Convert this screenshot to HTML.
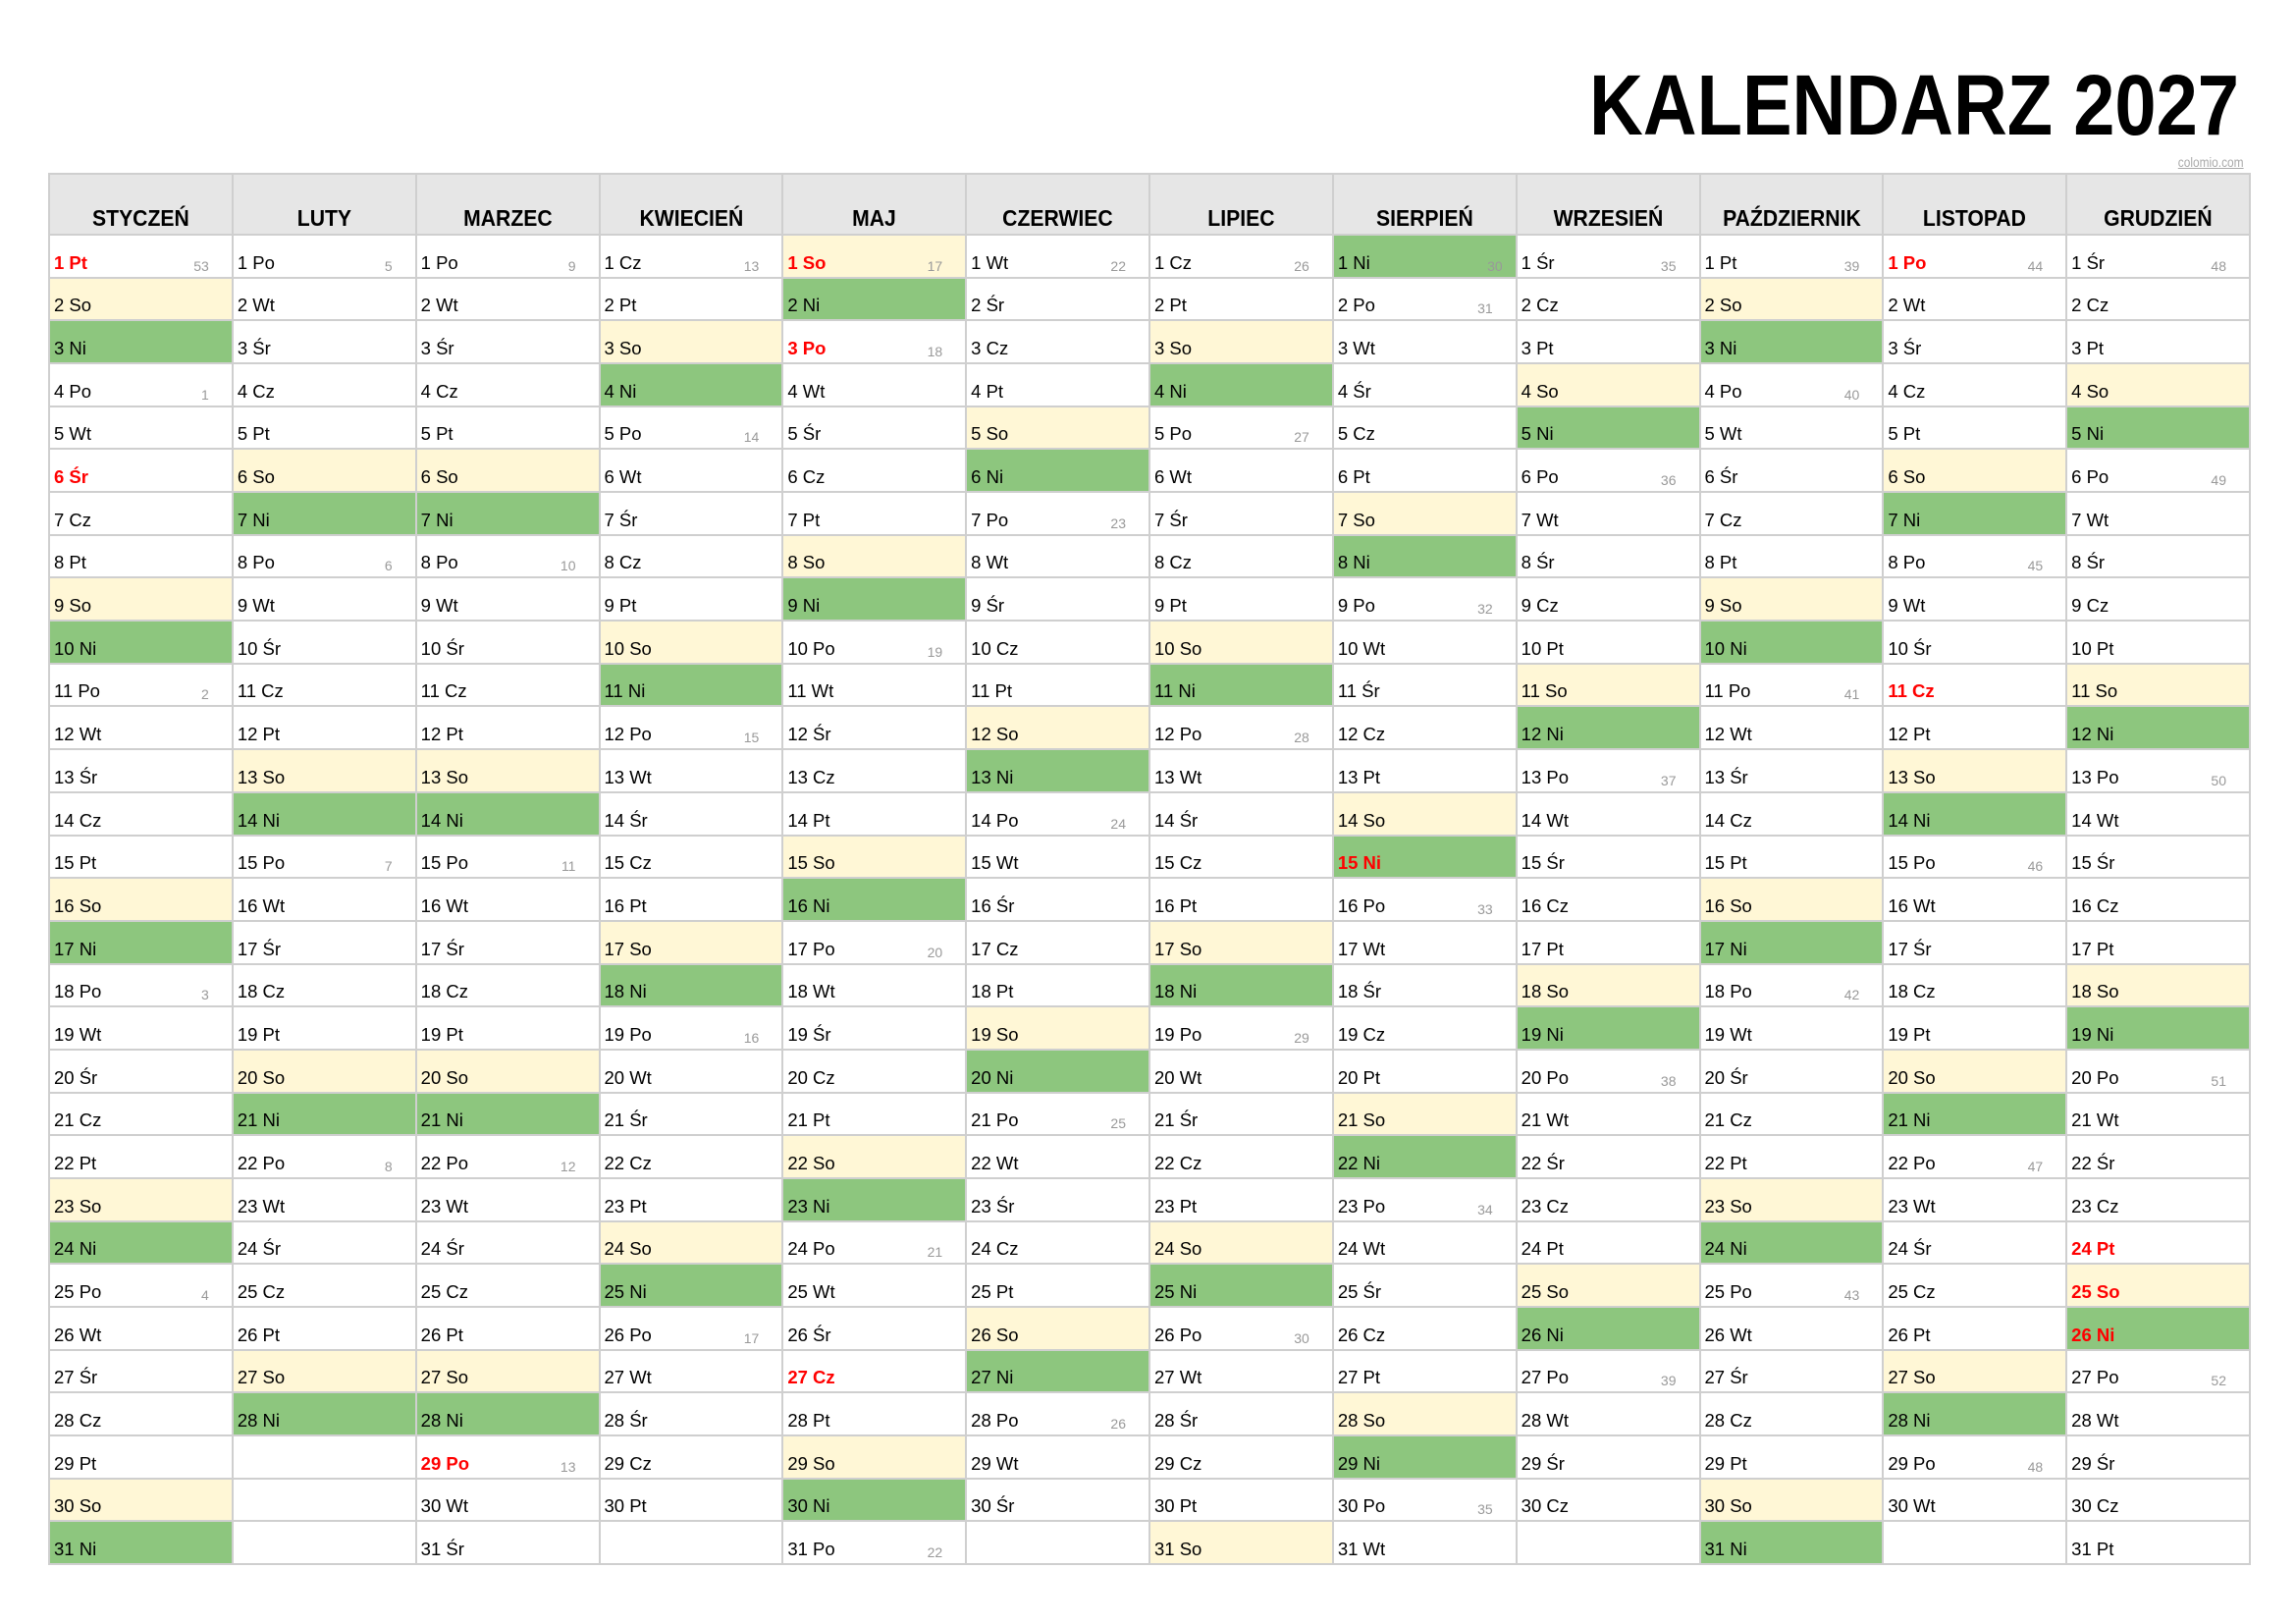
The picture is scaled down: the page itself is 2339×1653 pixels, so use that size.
<!DOCTYPE html>
<html><head><meta charset="utf-8">
<style>
body{margin:0;width:2339px;height:1653px;background:#fff;position:relative;overflow:hidden;font-family:"Liberation Sans",Arial,sans-serif}
#title{position:absolute;top:64px;left:1619px;font-weight:bold;font-size:87px;line-height:87px;white-space:nowrap;transform-origin:0 0;color:#000}
#credit{position:absolute;top:157px;right:53px;font-size:14px;color:#aaa;text-decoration:underline;transform:scaleX(.85);transform-origin:100% 0}
.hd{position:absolute;background:#e6e6e6;font-weight:bold;font-size:23px;text-align:center;box-sizing:border-box;color:#000}
.hd span{position:absolute;left:0;right:0;bottom:3px;display:block;transform:scaleX(.92)}
.cell{position:absolute;box-sizing:border-box;font-size:18.5px;color:#000}
.cell .d{position:absolute;left:5px;bottom:4px;white-space:nowrap}
.cell .w{position:absolute;bottom:4px;font-size:14px;color:#999}
.sat{background:#fff7d6}
.sun{background:#8dc67e}
.hol .d{color:#f00;font-weight:bold}
.ln{position:absolute;background:#cfcfcf}
</style></head><body>
<div id="title">KALENDARZ 2027</div>
<div id="credit">colomio.com</div>
<div id="grid"></div>
<script>
const months=["STYCZEŃ","LUTY","MARZEC","KWIECIEŃ","MAJ","CZERWIEC","LIPIEC","SIERPIEŃ","WRZESIEŃ","PAŹDZIERNIK","LISTOPAD","GRUDZIEŃ"];
const monthDays=[31,28,31,30,31,30,31,31,30,31,30,31];
const dayNames=["Ni","Po","Wt","Śr","Cz","Pt","So"];
const holidays=["1-1","1-6","3-29","5-1","5-3","5-27","8-15","11-1","11-11","12-24","12-25","12-26"];
const year=2027;

const L=50,R=2292,HT=177,HB=239,RH=43.68;
const CW=(R-L)/12;
const g=document.getElementById('grid');
function isoWeek(dt){const d=new Date(Date.UTC(dt.getFullYear(),dt.getMonth(),dt.getDate()));const day=d.getUTCDay()||7;d.setUTCDate(d.getUTCDate()+4-day);const ys=new Date(Date.UTC(d.getUTCFullYear(),0,1));return Math.ceil(((d-ys)/86400000+1)/7);}
months.forEach((m,i)=>{
  const x=L+i*CW;
  const h=document.createElement('div');
  h.className='hd';
  
  
  h.style.cssText=`left:${x}px;top:${HT}px;width:${CW}px;height:${HB-HT}px`;
  h.innerHTML='<span>'+m+'</span>';
  g.appendChild(h);
  for(let d=1;d<=monthDays[i];d++){
    const dt=new Date(year,i,d);const wd=dt.getDay();
    const c=document.createElement('div');
    c.className='cell'+(wd==6?' sat':wd==0?' sun':'')+(holidays.includes((i+1)+'-'+d)?' hol':'');
    
    
    c.style.cssText=`left:${x}px;top:${HB+(d-1)*RH}px;width:${CW}px;height:${RH}px`;
    let html='<span class="d">'+d+' '+dayNames[wd]+'</span>';
    if(wd==1||d==1){html+='<span class="w" style="right:'+(wd==0?14:24)+'px">'+isoWeek(dt)+'</span>';}
    c.innerHTML=html;
    g.appendChild(c);
  }
});
function line(x,y,w,h){const e=document.createElement('div');e.className='ln';


e.style.cssText=`left:${x}px;top:${y}px;width:${w}px;height:${h}px`;g.appendChild(e);}
for(let i=0;i<=12;i++)line(L+i*CW-1,HT-1,2,HB+31*RH-HT+2);
line(L-1,HT-1,R-L+2,2);
for(let r=0;r<=31;r++)line(L-1,HB+r*RH-1,R-L+2,2);
const t=document.getElementById('title');
t.style.transform='scaleX('+(662/t.offsetWidth)+')';
</script>
</body></html>
